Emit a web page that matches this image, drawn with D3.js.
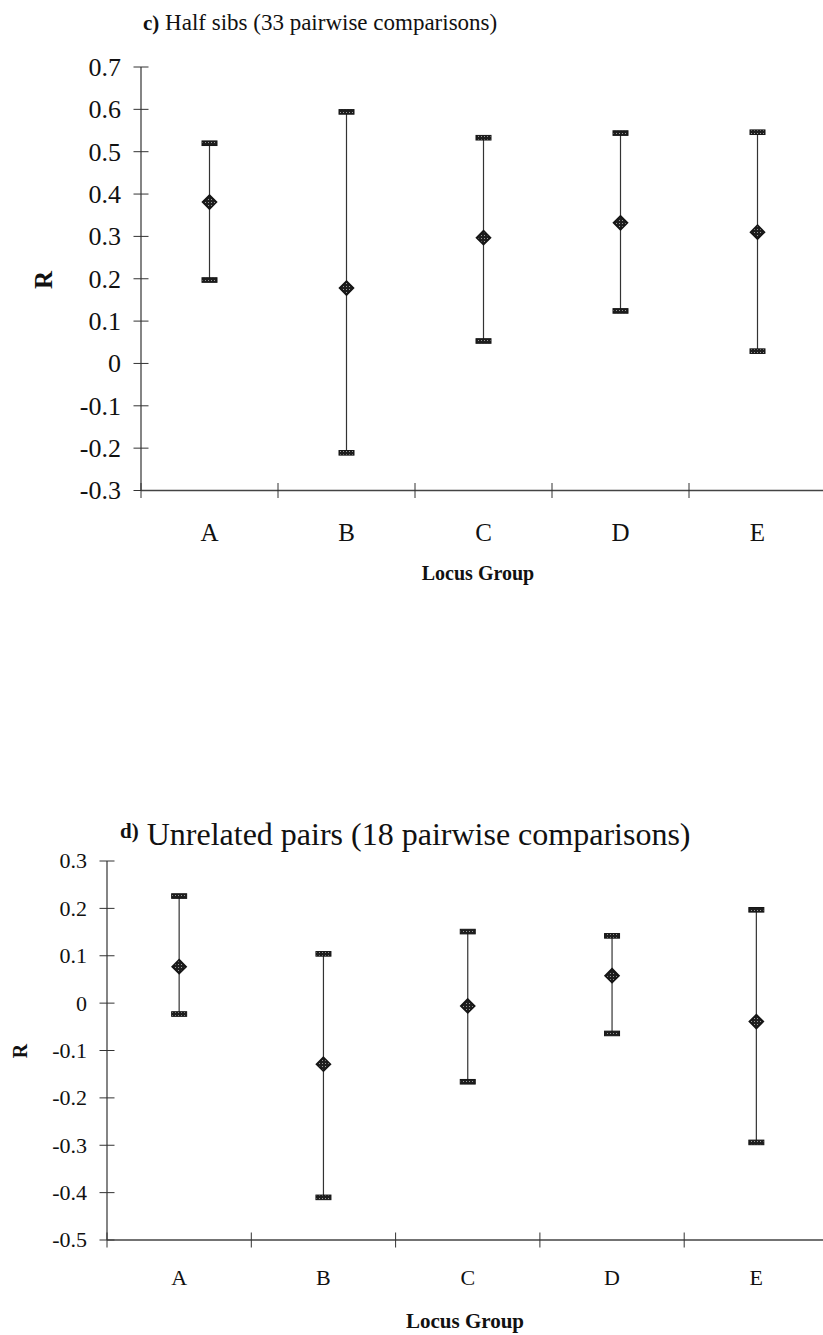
<!DOCTYPE html>
<html>
<head>
<meta charset="utf-8">
<script src="https://cdn.jsdelivr.net/npm/d3@7/dist/d3.min.js"></script>
<style>
  html, body { margin: 0; padding: 0; background: #fff; }
  svg { display: block; }
  text { font-family: "Liberation Serif", "Times New Roman", serif; fill: #111; }
</style>
</head>
<body>
<script>
// Locus groups on the x axis
const categories = ["A", "B", "C", "D", "E"];

// c) Half sibs: mean R and the ends of each error bar
const halfSibMean  = [0.381, 0.178, 0.297, 0.332, 0.310];
const halfSibUpper = [0.520, 0.594, 0.533, 0.544, 0.546];
const halfSibLower = [0.197, -0.211, 0.053, 0.124, 0.029];
const halfSibTicks = [0.7, 0.6, 0.5, 0.4, 0.3, 0.2, 0.1, 0, -0.1, -0.2, -0.3];

// d) Unrelated pairs: mean R and the ends of each error bar
const unrelatedMean  = [0.077, -0.129, -0.006, 0.058, -0.039];
const unrelatedUpper = [0.226, 0.104, 0.151, 0.142, 0.197];
const unrelatedLower = [-0.023, -0.410, -0.166, -0.064, -0.294];
const unrelatedTicks = [0.3, 0.2, 0.1, 0, -0.1, -0.2, -0.3, -0.4, -0.5];

const W = 823, H = 1335;
const svg = d3.select("body").append("svg").attr("width", W).attr("height", H);

// fill texture for the caps and the diamonds
const defs = svg.append("defs");
const pat = defs.append("pattern").attr("id", "grain")
  .attr("width", 3).attr("height", 3).attr("patternUnits", "userSpaceOnUse");
pat.append("rect").attr("width", 3).attr("height", 3).attr("fill", "#1e1e1e");
pat.append("rect").attr("x", 1).attr("y", 1).attr("width", 1).attr("height", 1).attr("fill", "#999");

const fmt = d => d === 0 ? "0" : d.toFixed(1);

function drawPanel(cfg) {
  const g = svg.append("g");
  const y = d3.scaleLinear().domain(cfg.domain).range([cfg.yBottom, cfg.yTop]);
  const x = d3.scaleBand().domain(categories).range([cfg.x0, cfg.x0 + cfg.step * categories.length]).padding(0);
  const cx = d => x(d) + x.bandwidth() / 2;

  // y axis line
  g.append("line")
    .attr("x1", cfg.x0).attr("x2", cfg.x0)
    .attr("y1", y(cfg.domain[1])).attr("y2", y(cfg.domain[0]))
    .attr("stroke", "#333").attr("stroke-width", 1.2);
  // y ticks cross the axis
  g.selectAll(".yt").data(cfg.ticks).join("line")
    .attr("x1", cfg.x0 - cfg.tickLen).attr("x2", cfg.x0 + cfg.tickLen)
    .attr("y1", d => y(d)).attr("y2", d => y(d))
    .attr("stroke", "#333").attr("stroke-width", 1);
  g.selectAll(".yl").data(cfg.ticks).join("text")
    .attr("x", cfg.x0 - cfg.labelGap).attr("y", d => y(d))
    .attr("dy", "0.34em").attr("text-anchor", "end")
    .attr("font-size", cfg.tickFont)
    .text(fmt);

  // x axis line along the bottom of the value range
  const yb = y(cfg.domain[0]);
  g.append("line")
    .attr("x1", cfg.x0).attr("x2", cfg.x0 + cfg.step * categories.length)
    .attr("y1", yb).attr("y2", yb)
    .attr("stroke", "#444").attr("stroke-width", 1.5);
  const bounds = d3.range(categories.length).map(i => cfg.x0 + cfg.step * i);
  g.selectAll(".xt").data(bounds).join("line")
    .attr("x1", d => d).attr("x2", d => d)
    .attr("y1", yb - cfg.tickLen).attr("y2", yb + cfg.tickLen)
    .attr("stroke", "#333").attr("stroke-width", 1);
  g.selectAll(".xl").data(categories).join("text")
    .attr("x", d => cx(d)).attr("y", cfg.catY)
    .attr("text-anchor", "middle").attr("font-size", cfg.catFont)
    .text(d => d);

  // axis titles
  g.append("text")
    .attr("x", cfg.xTitleX).attr("y", cfg.xTitleY)
    .attr("text-anchor", "middle").attr("font-weight", "bold")
    .attr("font-size", cfg.xTitleFont)
    .text("Locus Group");
  g.append("text")
    .attr("transform", `translate(${cfg.rX},${cfg.rY}) rotate(-90)`)
    .attr("text-anchor", "middle").attr("dy", "0.35em")
    .attr("font-weight", "bold").attr("font-size", cfg.rFont)
    .text("R");

  // panel title
  const t = g.append("text").attr("x", cfg.titleX).attr("y", cfg.titleY);
  t.append("tspan").attr("font-weight", "bold").attr("font-size", cfg.letterFont)
    .attr("dy", cfg.letterDy).text(cfg.letter);
  t.append("tspan").attr("font-size", cfg.titleFont).attr("dy", -cfg.letterDy)
    .text(" " + cfg.title);

  // error bars: vertical line, two caps, diamond at the mean
  const rows = categories.map((c, i) => ({ c, m: cfg.mean[i], hi: cfg.upper[i], lo: cfg.lower[i] }));
  g.selectAll(".eb").data(rows).join("line")
    .attr("x1", d => cx(d.c)).attr("x2", d => cx(d.c))
    .attr("y1", d => y(d.hi)).attr("y2", d => y(d.lo))
    .attr("stroke", "#333").attr("stroke-width", 1.2);
  const caps = rows.flatMap(d => [{ c: d.c, v: d.hi }, { c: d.c, v: d.lo }]);
  g.selectAll(".cap").data(caps).join("rect")
    .attr("x", d => cx(d.c) - 7.5).attr("y", d => y(d.v) - 2.3)
    .attr("width", 15).attr("height", 4.6)
    .attr("fill", "url(#grain)").attr("stroke", "#151515").attr("stroke-width", 1);
  const r = 7;
  g.selectAll(".dm").data(rows).join("path")
    .attr("d", d => {
      const px = cx(d.c), py = y(d.m);
      return `M${px},${py - r}L${px + r},${py}L${px},${py + r}L${px - r},${py}Z`;
    })
    .attr("fill", "url(#grain)").attr("stroke", "#151515").attr("stroke-width", 1.6);
}

drawPanel({
  domain: [-0.3, 0.7], yTop: 67, yBottom: 490.5,
  x0: 141, step: 137, ticks: halfSibTicks, tickLen: 7.5, labelGap: 20,
  tickFont: 26, catFont: 25, catY: 541,
  xTitleX: 478, xTitleY: 580, xTitleFont: 20,
  rX: 43, rY: 280, rFont: 25,
  titleX: 143, titleY: 30, letter: "c)", letterFont: 21, letterDy: 0,
  title: "Half sibs (33 pairwise comparisons)", titleFont: 23,
  mean: halfSibMean, upper: halfSibUpper, lower: halfSibLower
});

drawPanel({
  domain: [-0.5, 0.3], yTop: 861, yBottom: 1240,
  x0: 107, step: 144.3, ticks: unrelatedTicks, tickLen: 7.5, labelGap: 20,
  tickFont: 22, catFont: 22, catY: 1285,
  xTitleX: 465, xTitleY: 1328, xTitleFont: 21,
  rX: 20, rY: 1051, rFont: 20,
  titleX: 120, titleY: 845, letter: "d)", letterFont: 21, letterDy: -7,
  title: "Unrelated pairs (18 pairwise comparisons)", titleFont: 32,
  mean: unrelatedMean, upper: unrelatedUpper, lower: unrelatedLower
});
</script>
</body>
</html>
